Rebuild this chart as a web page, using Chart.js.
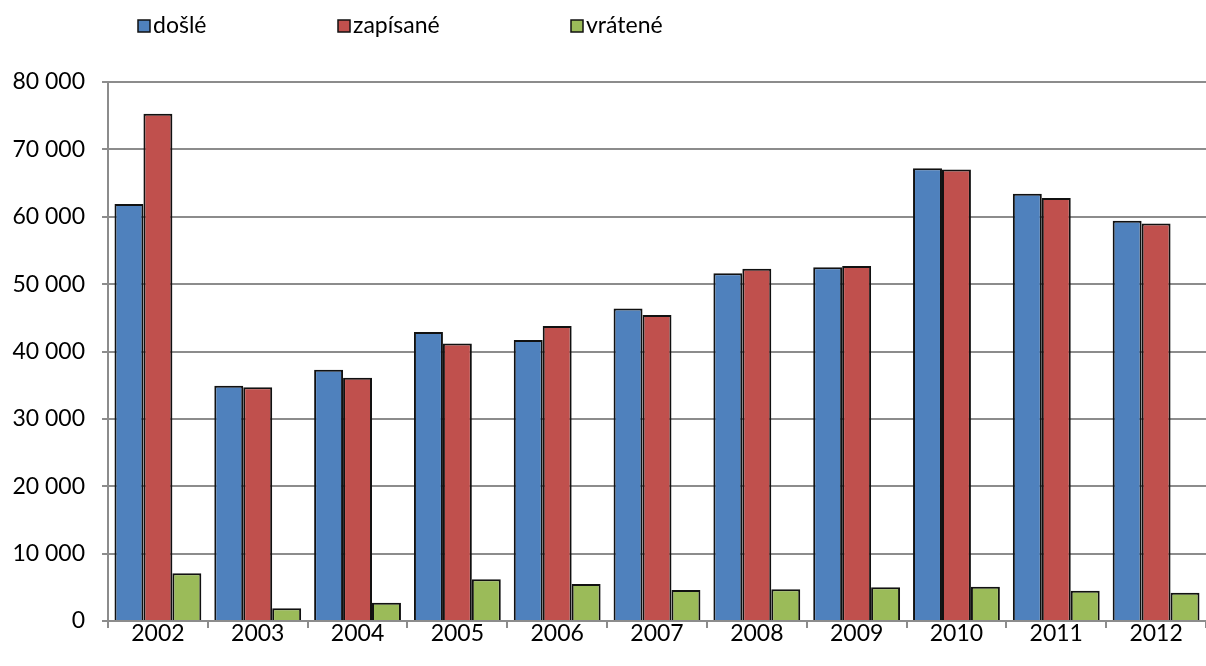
<!DOCTYPE html>
<html>
<head>
<meta charset="utf-8">
<script src="https://cdn.jsdelivr.net/npm/chart.js@4"></script>
<style>
  html, body { margin: 0; padding: 0; background: #fff; }
  #wrap { width: 1206px; height: 666px; }
</style>
</head>
<body>
<div id="wrap"><canvas id="barChart" width="1206" height="666"></canvas></div>
<script>
const years = ['2002', '2003', '2004', '2005', '2006', '2007', '2008', '2009', '2010', '2011', '2012']
const dosle = [61900, 34900, 37300, 42900, 41700, 46400, 51600, 52500, 67200, 63400, 59400]
const zapisane = [75300, 34700, 36100, 41200, 43800, 45400, 52300, 52700, 67000, 62800, 59000]
const vratene = [7100, 1900, 2700, 6200, 5500, 4600, 4700, 5000, 5100, 4500, 4200]
const yTicks = [0, 10000, 20000, 30000, 40000, 50000, 60000, 70000, 80000]

const font = "Lato, 'Open Sans', sans-serif"
const gridColor = '#8c8c8c'

// legend like excel: boxes at fixed x positions over the plot
const topLegend = {
  id: 'topLegend',
  afterDraw(chart, args, opts) {
    const ctx = chart.ctx
    ctx.save()
    ctx.font = '23px ' + font
    ctx.textBaseline = 'middle'
    chart.data.datasets.forEach((ds, i) => {
      const x = opts.xs[i]
      ctx.fillStyle = ds.backgroundColor
      ctx.fillRect(x, opts.y - 6, 12, 12)
      ctx.strokeStyle = '#111'
      ctx.lineWidth = 1.5
      ctx.strokeRect(x, opts.y - 6, 12, 12)
      ctx.fillStyle = '#000'
      ctx.fillText(ds.label, x + 15, opts.y)
    })
    ctx.restore()
  }
}

const ctx = document.getElementById('barChart')

new Chart(ctx, {
  type: 'bar',
  data: {
    labels: years,
    datasets: [{
      label: 'došlé',
      data: dosle,
      backgroundColor: '#4F81BD'
    }, {
      label: 'zapísané',
      data: zapisane,
      backgroundColor: '#C0504D'
    }, {
      label: 'vrátené',
      data: vratene,
      backgroundColor: '#9BBB59'
    }]
  },
  options: {
    responsive: false,
    animation: false,
    devicePixelRatio: 1,
    layout: {
      padding: { top: 82, right: 0, bottom: 0, left: 0 }
    },
    datasets: {
      bar: {
        borderColor: '#111',
        borderWidth: 2,
        categoryPercentage: 0.87,
        barPercentage: 1
      }
    },
    plugins: {
      legend: { display: false },
      tooltip: { enabled: false },
      topLegend: { xs: [138, 338, 571], y: 26 }
    },
    scales: {
      x: {
        offset: true,
        afterFit: s => { s.height = 45 },
        grid: {
          offset: true,
          drawOnChartArea: false,
          drawTicks: true,
          tickLength: 7,
          color: gridColor,
          lineWidth: 2
        },
        border: { color: gridColor, width: 2 },
        ticks: {
          color: '#000',
          padding: -8,
          font: { family: font, size: 23 }
        }
      },
      y: {
        min: 0,
        max: 80000,
        afterFit: s => { s.width = 108 },
        afterBuildTicks: s => { s.ticks = yTicks.map(v => ({ value: v })) },
        grid: {
          color: gridColor,
          lineWidth: 2,
          tickLength: 6
        },
        border: { color: gridColor, width: 2 },
        ticks: {
          color: '#000',
          padding: 17,
          font: { family: font, size: 23 },
          callback: v => String(v).replace(/\B(?=(\d{3})+(?!\d))/g, ' ')
        }
      }
    }
  },
  plugins: [topLegend]
})
</script>
</body>
</html>
